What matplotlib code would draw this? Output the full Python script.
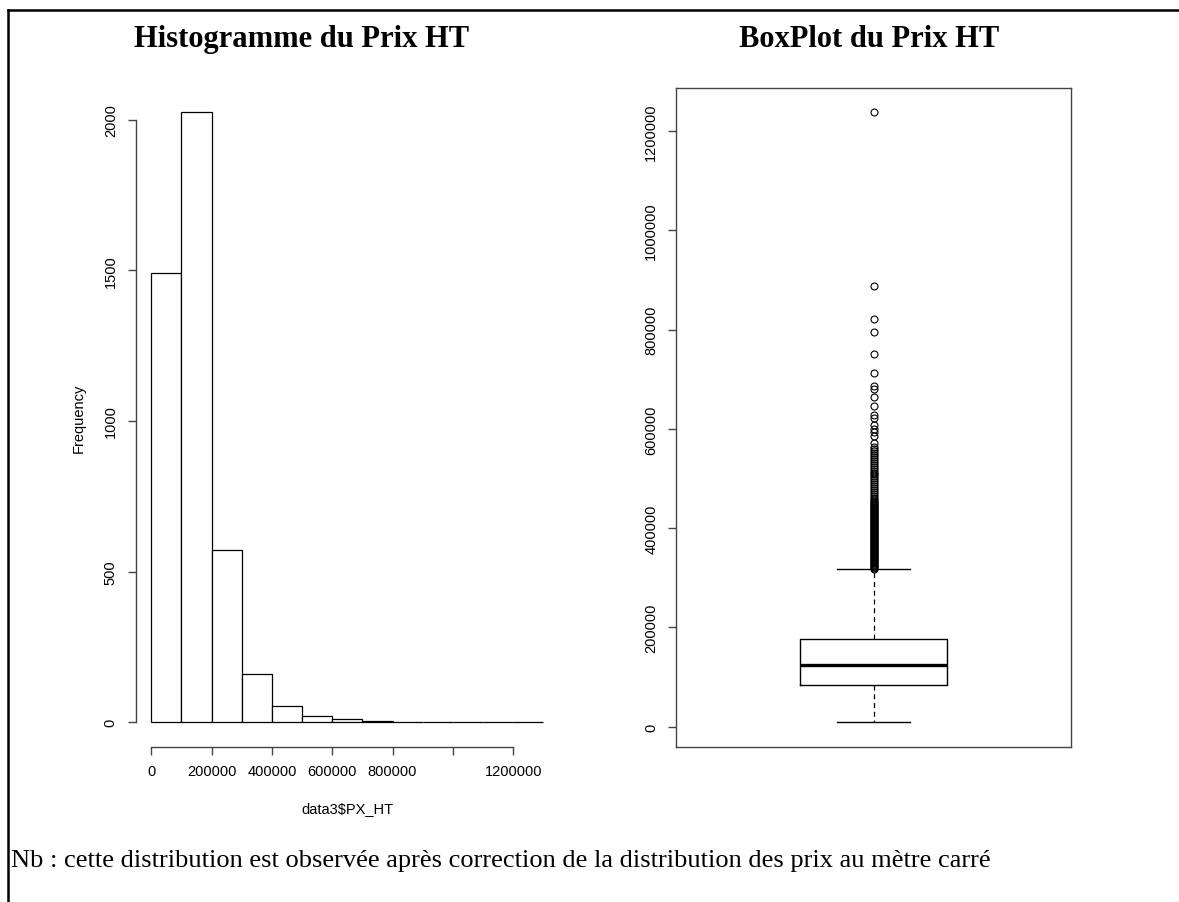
"""
Histogramme et boxplot du prix HT, avec la note sur la correction des prix au m2.
"""
import matplotlib
matplotlib.use("Agg")
import matplotlib.pyplot as plt
from matplotlib.lines import Line2D

# histogramme : bornes des classes (pas de 100000) et effectifs
bin_edges = [0, 100000, 200000, 300000, 400000, 500000, 600000, 700000,
             800000, 900000, 1000000, 1100000, 1200000, 1300000]
counts = [1490, 2024, 572, 159, 55, 20, 10, 3, 2, 0, 0, 0, 1]

hist_xticks = [0, 200000, 400000, 600000, 800000, 1000000, 1200000]
hist_xlabels = ["0", "200000", "400000", "600000", "800000", "", "1200000"]
hist_yticks = [0, 500, 1000, 1500, 2000]

# boxplot : quartiles, moustaches et valeurs atypiques
q1, med, q3 = 84000, 124300, 177200
whis_lo, whis_hi = 8900, 317000
outliers = [1237500, 888000, 821000, 796000, 751000, 712000, 686000, 680000,
            665000, 646500, 627000, 622000, 608000, 600000, 593000, 586000,
            571000, 563000, 559000, 555000, 551000, 547000, 543000, 540000,
            536000, 532000, 528000, 524000, 520000, 516000, 512000, 508000,
            504000, 500000, 496000, 492000, 488000, 484000, 480000, 476000,
            472000, 468000, 464000, 461000, 458000, 455000, 452000, 450000,
            448000, 446000, 444000, 442000, 440000, 438000, 436000, 434000,
            432000, 430000, 428000, 426000, 424000, 422000, 420000, 418000,
            416000, 414000, 412000, 410000, 408000, 406000, 404000, 402000,
            400000, 398000, 396000, 394000, 392000, 390000, 388000, 386000,
            384000, 382000, 380000, 378000, 376000, 374000, 372000, 370000,
            368000, 366000, 364000, 362000, 360000, 358000, 356000, 354000,
            352000, 350000, 348000, 346000, 344000, 342000, 340000, 338000,
            336000, 334000, 332000, 330000, 328000, 326000, 324000, 322000,
            320000, 318500]
box_yticks = [0, 200000, 400000, 600000, 800000, 1000000, 1200000]

sans = "Liberation Sans"
serif = "Liberation Serif"
axis_col = "#444444"

fig = plt.figure(figsize=(11.79, 9.03), dpi=100)

# ---- histogramme ----
ax1 = fig.add_axes([0.1150, 0.1720, 0.3591, 0.7294])
ax1.bar(bin_edges[:-1], counts, width=100000, align="edge",
        facecolor="white", edgecolor="black", linewidth=0.9)
ax1.set_xlim(-52000, 1352000)
ax1.set_ylim(-81, 2105)
for side in ["top", "right"]:
    ax1.spines[side].set_visible(False)
ax1.spines["left"].set_bounds(0, 2000)
ax1.spines["bottom"].set_bounds(0, 1200000)
for side in ["left", "bottom"]:
    ax1.spines[side].set_color(axis_col)
    ax1.spines[side].set_linewidth(1.0)
ax1.set_xticks(hist_xticks)
ax1.set_xticklabels(hist_xlabels, fontsize=10.5, family=sans)
ax1.set_yticks(hist_yticks)
ax1.set_yticklabels([str(v) for v in hist_yticks], fontsize=10.5, family=sans,
                    rotation=90, va="center")
ax1.tick_params(length=5.8, width=1.0, color=axis_col, pad=7)
ax1.set_ylabel("Frequency", fontsize=10.5, family=sans, labelpad=13)
ax1.set_xlabel("data3$PX_HT", fontsize=10.5, family=sans, labelpad=16)

# ---- boxplot ----
ax2 = fig.add_axes([0.5734, 0.1720, 0.3350, 0.7294])
stats = [{"med": med, "q1": q1, "q3": q3, "whislo": whis_lo,
          "whishi": whis_hi, "fliers": outliers}]
ax2.bxp(stats, positions=[1], widths=0.37,
        boxprops=dict(color="black", linewidth=1.0),
        medianprops=dict(color="black", linewidth=2.4),
        whiskerprops=dict(color="black", linewidth=0.9, linestyle=(0, (4, 3))),
        capprops=dict(color="black", linewidth=1.0),
        flierprops=dict(marker="o", markersize=5.0, markerfacecolor="none",
                        markeredgecolor="black", markeredgewidth=0.8))
ax2.set_xlim(0.5, 1.5)
ax2.set_ylim(-40300, 1286500)
ax2.set_xticks([])
for side in ax2.spines:
    ax2.spines[side].set_color(axis_col)
    ax2.spines[side].set_linewidth(1.0)
ax2.set_yticks(box_yticks)
ax2.set_yticklabels([str(v) for v in box_yticks], fontsize=10.5, family=sans,
                    rotation=90, va="center")
ax2.tick_params(length=5.8, width=1.0, color=axis_col, pad=7)

# ---- titres et note ----
fig.text(0.256, 0.956, "Histogramme du Prix HT", ha="center", va="center",
         fontsize=22, fontweight="bold", family=serif)
fig.text(0.737, 0.956, "BoxPlot du Prix HT", ha="center", va="center",
         fontsize=22, fontweight="bold", family=serif)
fig.text(0.009, 0.046, "Nb : cette distribution est observée après correction "
         "de la distribution des prix au mètre carré",
         ha="left", va="center", fontsize=19, family=serif)

# cadre du document
fig.add_artist(Line2D([0.007, 1.0], [0.988, 0.988], color="black", linewidth=1.8))
fig.add_artist(Line2D([0.007, 0.007], [0.0, 0.988], color="black", linewidth=1.8))

fig.savefig("out.png", dpi=100)
